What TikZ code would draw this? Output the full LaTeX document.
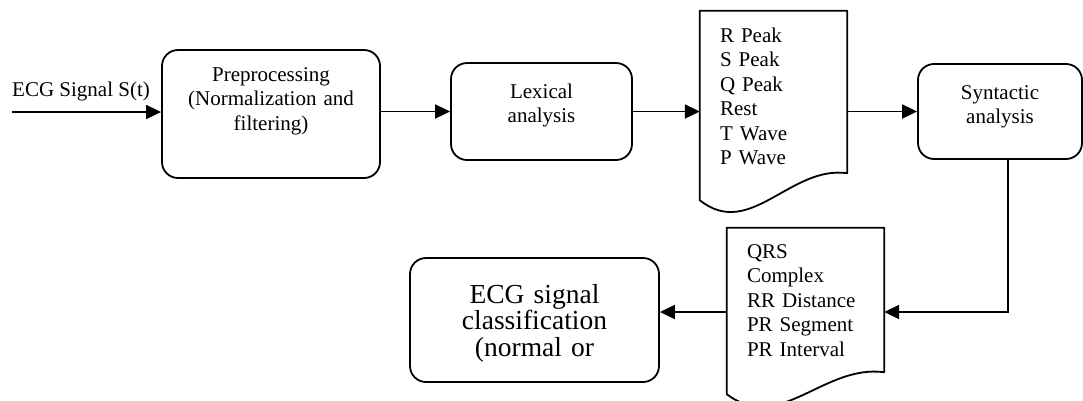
\documentclass[tikz,border=0pt]{standalone}
\usepackage{fontspec}
\setmainfont{Liberation Serif}
\usetikzlibrary{arrows.meta}

\begin{document}
\begin{tikzpicture}[x=1pt,y=-1pt,
  box/.style={rectangle,draw,line width=1.8pt,rounded corners=16pt,
    inner sep=0pt,align=center,font=\fontsize{21}{24.5}\selectfont},
  doc/.style={rectangle,inner xsep=20pt,inner ysep=0pt,align=left,
    font=\fontsize{21}{24.5}\selectfont},
  docline/.style={line width=1.8pt,line join=round},
  arr/.style={-{Triangle[length=15pt,width=14pt]},line width=1.8pt}]
  \useasboundingbox (0,0) rectangle (1083,400);

  \coordinate (sig) at (12,112);
  \node[anchor=base west,inner sep=0pt,font=\fontsize{21}{24.5}\selectfont] (siglbl) at (12,96.5) {ECG Signal S(t)};

  \node[box,text width=218pt,text height=31pt,text depth=97pt] (pre) at (271,114) {Preprocessing\\(Normalization and\\filtering)};
  \node[box,text width=181pt,text height=35pt,text depth=62pt] (lex) at (541.5,111.5) {Lexical\\analysis};
  \node[doc,text width=107pt,text height=31pt,text depth=131pt] (waves) at (773.5,92) {R Peak\\S Peak\\Q Peak\\Rest\\T Wave\\P Wave};
  \node[box,text width=164pt,text height=35pt,text depth=60pt] (syn) at (1000,111.5) {Syntactic\\analysis};
  \node[doc,text width=117pt,text height=30pt,text depth=114pt] (feats) at (805.5,300) {QRS\\Complex\\RR Distance\\PR Segment\\PR Interval};
  \node[box,text width=249pt,text height=45pt,text depth=79pt,
    font=\fontsize{27.5}{26.7}\selectfont] (cls) at (534.5,320) {ECG signal\\classification\\(normal or};

  % document outlines with wavy bottom
  \draw[docline] (waves.south west) -- ++(0,27) .. controls +(50,40) and +(-57,-8) .. (waves.south east)
    -- (waves.north east) -- (waves.north west) -- cycle;
  \draw[docline] (feats.south west) -- ++(0,22) .. controls +(53,40) and +(-61,-8) .. (feats.south east)
    -- (feats.north east) -- (feats.north west) -- cycle;

  \draw[arr] (sig) -- (sig -| pre.west);
  \draw[arr] (lex.west -| pre.east) -- (lex.west);
  \draw[arr] (lex.east) -- (lex.east -| waves.west);
  \draw[arr] (syn.west -| waves.east) -- (syn.west);
  \coordinate (bend) at (1008,312);
  \draw[arr] (bend |- syn.south) -- (bend) -- (bend -| feats.east);
  \draw[arr] (feats.west |- bend) -- (bend -| cls.east);
\end{tikzpicture}
\end{document}
